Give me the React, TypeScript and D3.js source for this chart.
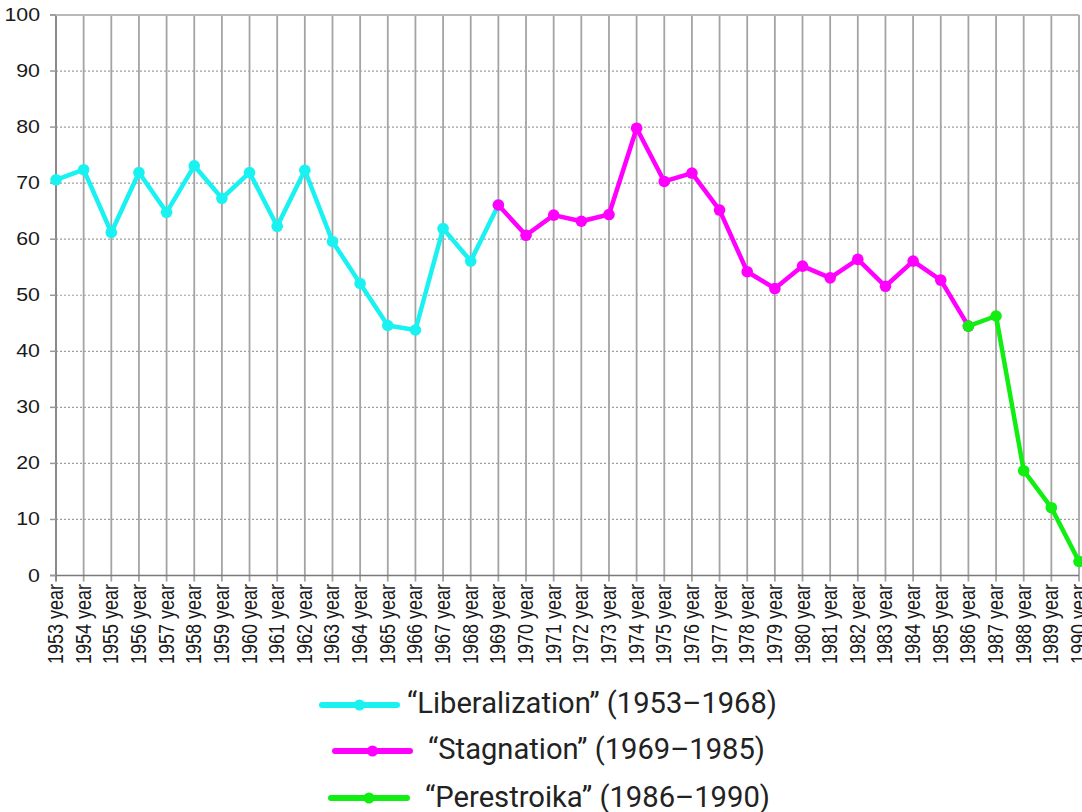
import React from "react";
import * as d3 from "d3";

const years: number[] = [
  1953, 1954, 1955, 1956, 1957, 1958, 1959, 1960, 1961, 1962, 1963, 1964, 1965,
  1966, 1967, 1968, 1969, 1970, 1971, 1972, 1973, 1974, 1975, 1976, 1977, 1978,
  1979, 1980, 1981, 1982, 1983, 1984, 1985, 1986, 1987, 1988, 1989, 1990,
];

const values: number[] = [
  70.6, 72.4, 61.2, 71.9, 64.8, 73.1, 67.3, 71.9, 62.3, 72.3, 59.6, 52.1, 44.6,
  43.8, 61.9, 56.1, 66.1, 60.7, 64.3, 63.2, 64.4, 79.8, 70.3, 71.8, 65.2, 54.2,
  51.2, 55.2, 53.1, 56.4, 51.6, 56.1, 52.7, 44.5, 46.3, 18.7, 12.1, 2.5,
];

const yTicks: number[] = [0, 10, 20, 30, 40, 50, 60, 70, 80, 90, 100];

const seriesNames: string[] = [
  "“Liberalization” (1953–1968)",
  "“Stagnation” (1969–1985)",
  "“Perestroika” (1986–1990)",
];
const seriesStart: number[] = [1953, 1969, 1986];
const seriesEnd: number[] = [1969, 1986, 1990];
const seriesColors: string[] = ["#1af2f2", "#ff00ff", "#11ee11"];

export default function App() {
  const W = 1082;
  const H = 812;
  const x = d3.scaleLinear().domain([1953, 1990]).range([56, 1079]);
  const y = d3.scaleLinear().domain([0, 100]).range([575.5, 15]);

  const data = years.map((yr, i) => ({ yr, v: values[i] }));
  const line = d3
    .line<{ yr: number; v: number }>()
    .x((d) => x(d.yr))
    .y((d) => y(d.v));

  const legendLayout = [
    { x1: 322, x2: 397, ly: 705, tx: 407, ty: 713, tw: 370 },
    { x1: 335, x2: 410, ly: 751, tx: 428, ty: 759, tw: 337 },
    { x1: 331, x2: 407, ly: 798, tx: 425, ty: 807, tw: 345 },
  ];

  return (
    <svg
      width={W}
      height={H}
      style={{ position: "absolute", left: 0, top: 0, background: "#fff" }}
    >
      {yTicks.map((t) =>
        t > 0 && t < 100 ? (
          <line
            key={"hg" + t}
            x1={x(1953)}
            x2={x(1990)}
            y1={y(t)}
            y2={y(t)}
            stroke="#a0a0a0"
            strokeWidth={1.2}
            strokeDasharray="2,2"
          />
        ) : null
      )}
      {years.map((yr) => (
        <line
          key={"vg" + yr}
          x1={x(yr)}
          x2={x(yr)}
          y1={y(100)}
          y2={y(0) + 6}
          stroke={yr === 1953 ? "#8a8a8a" : "#a4a4a4"}
          strokeWidth={yr === 1953 ? 2 : 1.8}
        />
      ))}
      <line x1={50} x2={x(1990)} y1={y(100)} y2={y(100)} stroke="#b8b8b8" strokeWidth={2} />
      <line x1={50} x2={x(1990)} y1={y(0)} y2={y(0)} stroke="#7a7a7a" strokeWidth={1.6} />
      {yTicks.map((t) => (
        <g key={"yt" + t}>
          <line x1={50} x2={56} y1={y(t)} y2={y(t)} stroke="#999" strokeWidth={1.5} />
          <text
            transform={`translate(40,${y(t) + 6}) scale(1.22,1)`}
            textAnchor="end"
            fontFamily="'Liberation Sans', Arial, sans-serif"
            fontSize={17.5}
            fill="#1a1a1a"
          >
            {t}
          </text>
        </g>
      ))}
      {years.map((yr) => (
        <text
          key={"xl" + yr}
          transform={`translate(${x(yr) + 7},584) scale(1.22,1) rotate(-90)`}
          textAnchor="end"
          fontFamily="'Liberation Sans', Arial, sans-serif"
          fontSize={18}
          fill="#1a1a1a"
        >
          {`${yr} year`}
        </text>
      ))}
      {seriesNames.map((name, si) => {
        const sub = data.filter(
          (d) => d.yr >= seriesStart[si] && d.yr <= seriesEnd[si]
        );
        return (
          <g key={"s" + si}>
            <path
              d={line(sub) || ""}
              fill="none"
              stroke={seriesColors[si]}
              strokeWidth={4.5}
              strokeLinejoin="round"
            />
            {sub.map((d) => (
              <circle
                key={d.yr}
                cx={x(d.yr)}
                cy={y(d.v)}
                r={5.8}
                fill={seriesColors[si]}
              />
            ))}
          </g>
        );
      })}
      {seriesNames.map((name, si) => {
        const L = legendLayout[si];
        return (
          <g key={"lg" + si}>
            <line
              x1={L.x1}
              x2={L.x2}
              y1={L.ly}
              y2={L.ly}
              stroke={seriesColors[si]}
              strokeWidth={6}
              strokeLinecap="round"
            />
            <circle cx={(L.x1 + L.x2) / 2} cy={L.ly} r={5.5} fill={seriesColors[si]} />
            <text
              x={L.tx}
              y={L.ty}
              fontFamily="Roboto, 'Noto Sans', sans-serif"
              fontSize={29}
              fill="#222"
              textLength={L.tw}
              lengthAdjust="spacingAndGlyphs"
            >
              {name}
            </text>
          </g>
        );
      })}
    </svg>
  );
}
